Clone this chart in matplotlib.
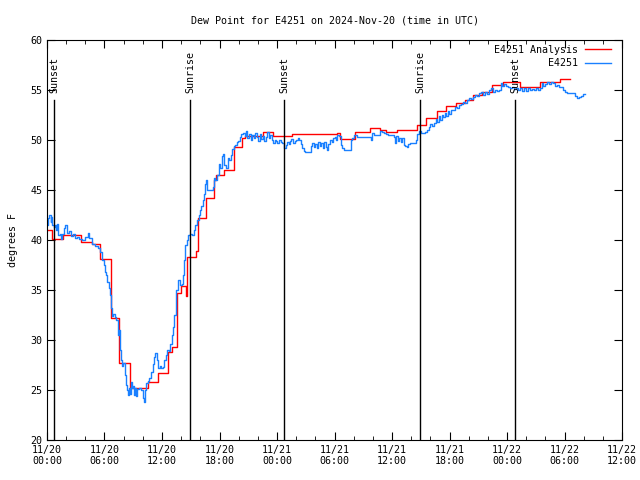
import numpy as np
import pandas as pd
import matplotlib
matplotlib.use('Agg')
import matplotlib.pyplot as plt
import matplotlib.dates as mdates

start = pd.Timestamp('2024-11-20 00:00')

# analysis (hourly-ish steps): hours after start, dew point F
ana_hours = [0.00, 0.55, 1.64, 3.55, 4.66, 5.53, 6.63, 7.52, 8.66, 10.57, 11.55, 12.60,
             13.01, 13.54, 13.99, 14.50, 14.58, 15.55, 15.73, 16.56, 17.46, 17.60, 18.50,
             19.55, 20.35, 20.66, 22.57, 23.62, 25.53, 30.23, 30.58, 32.14, 33.70, 34.70,
             35.38, 36.55, 38.58, 39.55, 40.67, 41.64, 42.68, 43.62, 44.49, 45.36, 46.40,
             47.62, 49.36, 51.45, 53.53, 54.58]
ana_vals = [41.0, 40.1, 40.5, 39.8, 39.6, 38.1, 32.2, 27.7, 25.2, 25.8, 26.7, 28.8,
            29.3, 34.7, 35.4, 34.4, 38.3, 38.9, 42.2, 44.2, 46.0, 46.5, 47.0,
            49.3, 50.2, 50.4, 50.8, 50.4, 50.6, 50.7, 50.1, 50.8, 51.2, 51.0,
            50.8, 51.0, 51.5, 52.2, 52.9, 53.4, 53.7, 54.0, 54.5, 54.8, 55.5,
            55.8, 55.3, 55.8, 56.1, 56.1]

# station observations
obs_hours = [0.00, 0.10, 0.26, 0.37, 0.42, 0.52, 0.73, 0.83, 0.94, 1.04, 1.15, 1.36, 1.46, 1.57,
             1.77, 1.88, 2.09, 2.30, 2.50, 2.71, 2.92, 3.13, 3.34, 3.65, 3.97, 4.28, 4.38, 4.70,
             5.01, 5.32, 5.53, 5.74, 5.95, 6.05, 6.16, 6.31, 6.47, 6.57, 6.68, 6.78, 6.94, 7.10,
             7.25, 7.41, 7.51, 7.62, 7.72, 7.83, 7.98, 8.09, 8.24, 8.35, 8.45, 8.56, 8.66, 8.77,
             8.87, 8.97, 9.08, 9.18, 9.29, 9.44, 9.60, 9.81, 10.02, 10.12, 10.23, 10.38, 10.54,
             10.69, 10.85, 11.01, 11.16, 11.32, 11.48, 11.58, 11.74, 11.90, 12.06, 12.21, 12.37,
             12.52, 12.68, 12.84, 13.00, 13.15, 13.30, 13.41, 13.51, 13.62, 13.72, 13.88, 14.04,
             14.19, 14.30, 14.40, 14.56, 14.71, 14.92, 15.13, 15.29, 15.44, 15.65, 15.81, 15.97,
             16.12, 16.28, 16.38, 16.49, 16.59, 16.70, 16.90, 17.11, 17.27, 17.43, 17.58, 17.74,
             17.90, 18.05, 18.21, 18.37, 18.52, 18.68, 18.84, 18.99, 19.15, 19.31, 19.46, 19.62,
             19.78, 19.93, 20.09, 20.24, 20.45, 20.61, 20.77, 20.92, 21.08, 21.24, 21.39, 21.55,
             21.71, 21.86, 22.02, 22.18, 22.33, 22.49, 22.65, 22.80, 22.96, 23.12, 23.27, 23.43,
             23.59, 23.74, 23.90, 24.05, 24.21, 24.37, 24.52, 24.73, 24.89, 25.05, 25.20, 25.36,
             25.51, 25.67, 25.83, 25.98, 26.14, 26.30, 26.45, 26.61, 26.77, 26.92, 27.13, 27.34,
             27.50, 27.65, 27.81, 27.97, 28.12, 28.28, 28.44, 28.59, 28.75, 28.91, 29.06, 29.22,
             29.37, 29.53, 29.69, 29.84, 30.00, 30.16, 30.31, 30.47, 30.63, 30.78, 30.94, 31.10,
             31.30, 31.51, 31.67, 31.83, 31.98, 32.14, 32.35, 32.66, 32.98, 33.29, 33.50, 33.71,
             33.81, 33.91, 34.12, 34.33, 34.54, 34.75, 34.96, 35.17, 35.38, 35.58, 35.79, 36.00,
             36.16, 36.31, 36.42, 36.57, 36.73, 36.89, 37.04, 37.20, 37.36, 37.51, 37.67, 37.88,
             38.09, 38.30, 38.45, 38.61, 38.82, 39.03, 39.24, 39.45, 39.66, 39.81, 39.97, 40.18,
             40.39, 40.54, 40.70, 40.86, 41.01, 41.17, 41.32, 41.48, 41.64, 41.79, 41.95, 42.16,
             42.37, 42.58, 42.78, 42.99, 43.20, 43.41, 43.62, 43.83, 44.04, 44.25, 44.46, 44.67,
             44.87, 45.08, 45.29, 45.50, 45.71, 45.92, 46.13, 46.34, 46.55, 46.75, 46.96, 47.17,
             47.33, 47.48, 47.69, 47.90, 48.11, 48.32, 48.53, 48.74, 48.95, 49.16, 49.37, 49.58,
             49.79, 50.00, 50.20, 50.41, 50.62, 50.83, 51.04, 51.25, 51.46, 51.62, 51.77, 51.98,
             52.19, 52.40, 52.61, 52.82, 53.03, 53.24, 53.45, 53.66, 53.87, 54.08, 54.29, 54.50,
             54.70, 54.91, 55.12, 55.33, 55.54, 55.75, 55.96, 56.17]
obs_vals = [41.5, 42.2, 42.5, 41.8, 42.3, 41.5, 41.3, 41.5, 41.0, 41.6, 40.5, 40.6, 40.1, 40.6,
            41.2, 41.5, 40.7, 40.9, 40.4, 40.6, 40.2, 40.3, 40.1, 40.0, 40.3, 40.7, 40.2, 39.6,
            39.4, 39.2, 38.8, 38.0, 37.5, 36.8, 36.5, 35.8, 35.2, 34.5, 33.2, 32.4, 32.6, 32.3,
            32.0, 30.5, 31.0, 29.0, 28.0, 27.4, 27.7, 26.5, 25.5, 25.0, 24.5, 25.2, 24.6, 25.8,
            25.2, 25.4, 24.5, 25.2, 24.4, 25.1, 25.2, 25.0, 24.2, 23.8, 25.0, 25.7, 25.9,
            26.2, 26.8, 27.6, 28.3, 28.7, 28.0, 27.2, 27.4, 27.2, 27.3, 28.0, 28.5,
            29.0, 28.9, 29.6, 30.5, 31.3, 32.5, 33.5, 35.0, 35.6, 36.0, 35.5, 35.6,
            36.5, 38.0, 39.5, 40.0, 40.5, 40.6, 40.5, 41.0, 41.5, 42.0, 42.5, 43.0,
            43.4, 44.0, 44.6, 45.6, 46.0, 45.0, 45.0, 45.0, 45.3, 46.2, 46.0, 46.5,
            47.6, 47.2, 48.4, 48.6, 47.5, 47.2, 48.2, 48.0, 48.5, 49.1, 49.4, 49.5,
            49.8, 49.9, 50.3, 50.6, 50.7, 50.4, 50.9, 50.2, 50.6, 50.0, 50.5, 50.2,
            50.7, 50.3, 49.9, 50.6, 50.1, 50.4, 49.9, 50.3, 50.8, 50.2, 50.5, 50.0,
            49.7, 50.0, 49.9, 49.7, 50.0, 49.8, 49.7, 49.2, 49.5, 49.8, 49.6, 49.9,
            50.1, 49.7, 49.9, 50.0, 50.2, 50.0, 49.6, 49.2, 48.9, 48.8, 48.8, 48.8,
            49.4, 49.7, 49.3, 49.6, 49.2, 49.8, 49.4, 49.7, 49.2, 49.8, 49.3, 49.0,
            49.6, 50.0, 49.8, 50.2, 50.3, 50.0, 50.5, 50.4, 49.5, 49.2, 49.0, 49.0,
            49.0, 49.0, 50.0, 50.2, 50.5, 50.5, 50.3, 50.3, 50.3, 50.3, 50.3, 50.3,
            50.0, 50.7, 50.5, 50.5, 50.5, 50.9, 50.8, 50.7, 50.6, 50.5, 50.5, 50.5,
            50.3, 49.7, 50.4, 49.9, 50.2, 49.8, 50.2, 49.5, 49.4, 49.3, 49.6, 49.7,
            49.7, 49.7, 50.0, 50.6, 50.9, 50.7, 50.7, 50.8, 51.0, 51.3, 51.6, 51.4,
            51.7, 52.1, 51.8, 52.4, 52.0, 52.5, 52.3, 52.7, 52.4, 52.9, 52.6, 53.0,
            53.0, 53.3, 53.2, 53.5, 53.6, 53.8, 53.7, 54.0, 54.2, 54.1, 54.3, 54.5,
            54.4, 54.7, 54.8, 54.5, 54.8, 54.6, 55.0, 55.2, 54.8, 55.0, 54.9, 55.0,
            55.7, 55.4, 55.6, 55.4, 55.3, 55.2, 55.3, 55.1, 55.2, 55.0, 55.2, 54.9,
            55.2, 54.9, 55.2, 55.0, 55.1, 55.0, 55.2, 55.0, 55.2, 55.7, 55.4, 55.6,
            55.8, 55.6, 55.8, 55.7, 55.4, 55.5, 55.3, 55.3, 55.0, 54.8, 54.7, 54.7,
            54.7, 54.7, 54.4, 54.2, 54.3, 54.4, 54.6, 54.6]

sun_hours = [0.73, 14.92, 24.73, 38.92, 48.84]
sun_labels = ['Sunset', 'Sunrise', 'Sunset', 'Sunrise', 'Sunset']

def to_time(hours):
    return start + pd.to_timedelta(np.array(hours), unit='h')

mono = 'DejaVu Sans Mono'
fs = 7.2
fig = plt.figure(figsize=(6.4, 4.8), dpi=100)
ax = fig.add_axes([0.0734, 0.0833, 0.8986, 0.8334])

ax.plot(to_time(ana_hours), ana_vals, color='#ff0000', lw=1.0, drawstyle='steps-post',
        label='E4251 Analysis')
ax.plot(to_time(obs_hours), obs_vals, color='#1a80ff', lw=1.0, drawstyle='steps-post',
        label='E4251')

for h, lab in zip(sun_hours, sun_labels):
    t = to_time([h])[0]
    ax.plot([t, t], [20, 54.0], color='black', lw=1.0)
    ax.text(t, 54.7, lab, rotation=90, ha='center', va='bottom', fontsize=fs, family=mono)

ax.set_xlim(start, start + pd.Timedelta(hours=60))
ax.set_ylim(20, 60)
ax.set_yticks(np.arange(20, 61, 5))
ax.xaxis.set_major_locator(mdates.HourLocator(byhour=[0, 6, 12, 18]))
ax.xaxis.set_minor_locator(mdates.HourLocator(byhour=range(0, 24, 2)))
ax.xaxis.set_major_formatter(mdates.DateFormatter('%m/%d\n%H:%M'))
ax.tick_params(which='both', direction='in', top=True, right=True, labelsize=fs)
ax.tick_params(which='major', length=6)
ax.tick_params(which='minor', length=3)
for lab in ax.get_xticklabels() + ax.get_yticklabels():
    lab.set_family(mono)

ax.set_ylabel('degrees F', fontsize=fs, family=mono, labelpad=9)
ax.set_title('Dew Point for E4251 on 2024-Nov-20 (time in UTC)', fontsize=fs, family=mono, pad=12)
leg = ax.legend(loc='upper right', bbox_to_anchor=(0.98, 0.9875), frameon=False, markerfirst=False,
                handlelength=2.6, handletextpad=0.7, borderaxespad=0.0, borderpad=0.0,
                labelspacing=0.35, prop={'family': mono, 'size': fs})
for t in leg.get_texts():
    t.set_ha('right')

fig.savefig('out.png', dpi=100)
